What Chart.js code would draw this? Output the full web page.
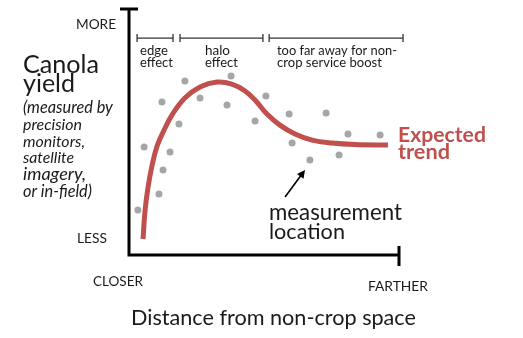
<!DOCTYPE html>
<html><head><meta charset="utf-8">
<script src="https://cdn.jsdelivr.net/npm/chart.js@4"></script>
<style>html,body{margin:0;padding:0;background:#fff}#wrap{width:523px;height:338px;position:relative}</style>
</head><body><div id="wrap"><canvas id="c" width="523" height="338"></canvas></div>
<script>
// Measurement locations (distance, yield) in arbitrary 0-10 units
const distanceObs = [0.33, 1.11, 1.26, 0.56, 1.52, 1.22, 1.85, 2.07, 2.63, 3.78, 3.63, 4.67, 5.07, 5.93, 7.30, 6.04, 6.70, 7.78, 8.11, 9.30];
const yieldObs    = [1.83, 2.48, 3.46, 4.39, 4.19, 6.22, 5.33, 7.07, 6.38, 7.28, 6.10, 5.45, 6.46, 5.73, 5.77, 4.55, 3.86, 4.07, 4.92, 4.88];
// Expected trend curve
const trendDistance = [0.52, 0.59, 0.70, 0.85, 1.04, 1.30, 1.59, 2.07, 2.63, 3.26, 3.81, 4.30, 4.70, 5.11, 5.59, 6.15, 6.78, 7.52, 8.37, 9.59];
const trendYield    = [0.65, 1.75, 2.72, 3.62, 4.43, 5.08, 5.69, 6.38, 6.83, 7.03, 6.95, 6.67, 6.26, 5.73, 5.28, 4.92, 4.67, 4.55, 4.49, 4.47];
// Axis range
const axisMin = 0, axisMax = 10;
// Zones along distance axis
const zoneLabels = [['edge', 'effect'], ['halo', 'effect'], ['too far away for non-', 'crop service boost']];
const zoneStart = [0.30, 1.89, 5.19];
const zoneEnd   = [1.63, 4.96, 10.15];
const zoneLevel = 8.82;
// Arrow annotation (from -> to), in data units
const arrowFrom = [5.78, 2.36];
const arrowTo   = [6.52, 3.46];

const RED = '#c0504d';
const GRAY = '#a6a6a6';
const INK = '#1a1a1a';
const FAM = 'Lato, "Open Sans", sans-serif';

function fitText(ctx, text, x, y, width, style, align, color) {
  let size = 20;
  ctx.font = `${style} ${size}px ${FAM}`;
  const w = ctx.measureText(text).width;
  size = size * width / w;
  ctx.font = `${style} ${size.toFixed(2)}px ${FAM}`;
  ctx.textAlign = align;
  ctx.textBaseline = 'alphabetic';
  ctx.fillStyle = color;
  ctx.fillText(text, x, y);
}

const annot = {
  id: 'annot',
  afterDraw(chart) {
    const ctx = chart.ctx, a = chart.chartArea;
    const xs = chart.scales.x, ys = chart.scales.y;
    ctx.save();
    // axes
    ctx.strokeStyle = '#000'; ctx.lineWidth = 3; ctx.lineCap = 'butt';
    ctx.beginPath();
    ctx.moveTo(a.left, a.top); ctx.lineTo(a.left, a.bottom + 1.5);
    ctx.moveTo(a.left - 1.5, a.bottom); ctx.lineTo(a.right, a.bottom);
    ctx.moveTo(a.left - 9, a.top); ctx.lineTo(a.left + 9, a.top);
    ctx.moveTo(a.right, a.bottom - 9); ctx.lineTo(a.right, a.bottom + 11);
    ctx.stroke();
    // zone brackets
    ctx.strokeStyle = '#333'; ctx.lineWidth = 1.3;
    const yz = ys.getPixelForValue(zoneLevel);
    zoneStart.forEach((s, i) => {
      const x0 = xs.getPixelForValue(s), x1 = xs.getPixelForValue(zoneEnd[i]);
      ctx.beginPath();
      ctx.moveTo(x0, yz); ctx.lineTo(x1, yz);
      ctx.moveTo(x0, yz - 4); ctx.lineTo(x0, yz + 4);
      ctx.moveTo(x1, yz - 4); ctx.lineTo(x1, yz + 4);
      ctx.stroke();
    });
    // zone labels
    fitText(ctx, zoneLabels[0][0], 140, 55, 28, 'normal', 'left', INK);
    fitText(ctx, zoneLabels[0][1], 140, 67, 33, 'normal', 'left', INK);
    fitText(ctx, zoneLabels[1][0], 205, 55, 25, 'normal', 'left', INK);
    fitText(ctx, zoneLabels[1][1], 205, 67, 33, 'normal', 'left', INK);
    fitText(ctx, zoneLabels[2][0], 277, 55, 120, 'normal', 'left', INK);
    fitText(ctx, zoneLabels[2][1], 277, 67, 105, 'normal', 'left', INK);
    // arrow
    const ax0 = xs.getPixelForValue(arrowFrom[0]), ay0 = ys.getPixelForValue(arrowFrom[1]);
    const ax1 = xs.getPixelForValue(arrowTo[0]), ay1 = ys.getPixelForValue(arrowTo[1]);
    const ang = Math.atan2(ay1 - ay0, ax1 - ax0);
    ctx.strokeStyle = '#000'; ctx.fillStyle = '#000'; ctx.lineWidth = 1.6;
    ctx.beginPath();
    ctx.moveTo(ax0, ay0);
    ctx.lineTo(ax1 - 6 * Math.cos(ang), ay1 - 6 * Math.sin(ang));
    ctx.stroke();
    ctx.beginPath();
    ctx.moveTo(ax1, ay1);
    ctx.lineTo(ax1 - 8 * Math.cos(ang) + 4 * Math.sin(ang), ay1 - 8 * Math.sin(ang) - 4 * Math.cos(ang));
    ctx.lineTo(ax1 - 8 * Math.cos(ang) - 4 * Math.sin(ang), ay1 - 8 * Math.sin(ang) + 4 * Math.cos(ang));
    ctx.closePath(); ctx.fill();
    // axis end labels
    fitText(ctx, 'MORE', 116, 29, 40, 'normal', 'right', INK);
    fitText(ctx, 'LESS', 107, 243, 30, 'normal', 'right', INK);
    fitText(ctx, 'CLOSER', 93, 286, 50, 'normal', 'left', INK);
    fitText(ctx, 'FARTHER', 368, 291, 60, 'normal', 'left', INK);
    fitText(ctx, 'Distance from non-crop space', 131, 325, 285, 'normal', 'left', INK);
    // y title
    fitText(ctx, 'Canola', 23, 73, 76, 'normal', 'left', INK);
    fitText(ctx, 'yield', 23, 92, 52, 'normal', 'left', INK);
    const sub = ['(measured by', 'precision', 'monitors,', 'satellite', 'imagery,', 'or in-field)'];
    const subW = [90, 59, 62, 51, 63, 69];
    const subB = [113, 130, 147, 163, 180, 197];
    sub.forEach((t, i) => fitText(ctx, t, 23, subB[i], subW[i], 'italic', 'left', INK));
    // other labels
    fitText(ctx, 'measurement', 269, 220, 133, 'normal', 'left', INK);
    fitText(ctx, 'location', 269, 239, 76, 'normal', 'left', INK);
    fitText(ctx, 'Expected', 398, 142, 88, 'bold', 'left', RED);
    fitText(ctx, 'trend', 398, 159, 52, 'bold', 'left', RED);
    ctx.restore();
  }
};

new Chart(document.getElementById('c'), {
  type: 'scatter',
  data: {
    datasets: [
      {
        label: 'Expected trend',
        type: 'line',
        data: trendDistance.map((d, i) => ({ x: d, y: trendYield[i] })),
        borderColor: RED, borderWidth: 5, pointRadius: 0, tension: 0.4,
        borderCapStyle: 'butt', fill: false, order: 2
      },
      {
        label: 'Measurement location',
        data: distanceObs.map((d, i) => ({ x: d, y: yieldObs[i] })),
        backgroundColor: GRAY, borderWidth: 0, pointRadius: 3.5, order: 1
      }
    ]
  },
  options: {
    responsive: false, animation: false, devicePixelRatio: 1,
    layout: { padding: { left: 129, right: 124, top: 9, bottom: 83 } },
    plugins: { legend: { display: false }, tooltip: { enabled: false } },
    scales: {
      x: { type: 'linear', min: axisMin, max: axisMax, display: false },
      y: { type: 'linear', min: axisMin, max: axisMax, display: false }
    }
  },
  plugins: [annot]
});
</script>
</body></html>
